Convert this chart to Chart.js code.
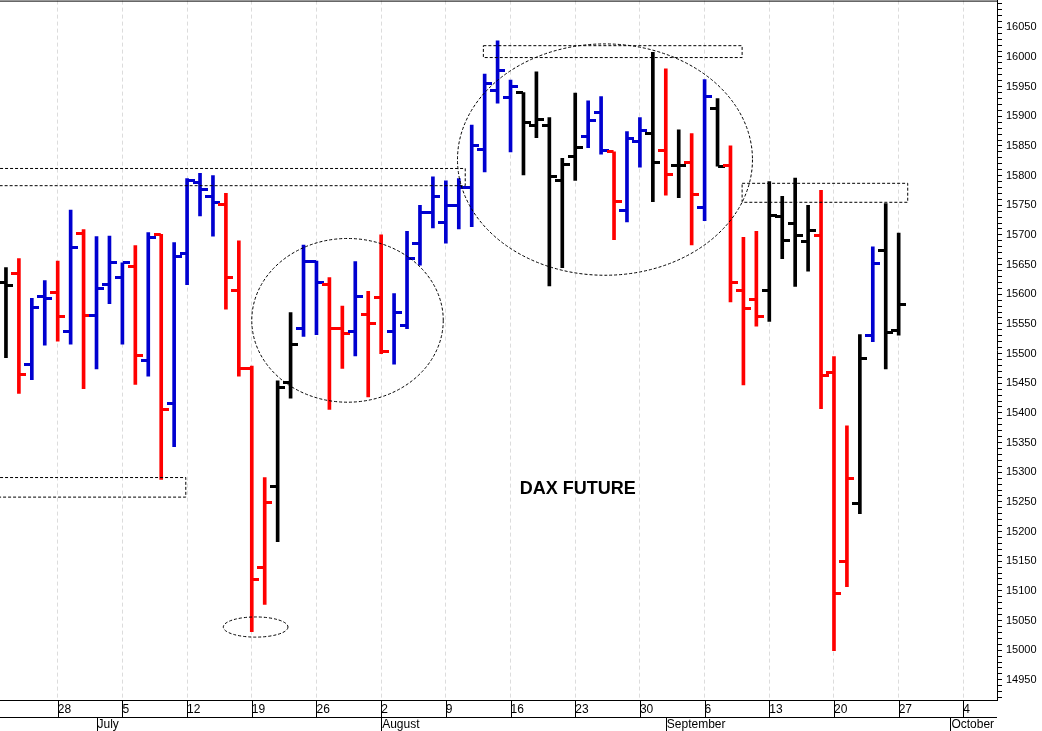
<!DOCTYPE html>
<html lang="en">
<head>
  <meta charset="UTF-8">
  <title>DAX Future</title>
  <script src="https://cdn.jsdelivr.net/npm/chart.js"></script>
  <style>
    body { margin: 0; background: #ffffff; }
    #wrap { width: 1042px; height: 731px; overflow: hidden; position: relative; }
    #inner { position: absolute; left: -5px; top: -10px; width: 1047px; height: 741px; }
  </style>
</head>
<body>
  <div id="wrap"><div id="inner"><canvas id="daxChart"></canvas></div></div>
  <script>
    // trading day index: 0 = Mon 21 June, bars start Tue 22 June
    const firstDay = 1;
    const highs  = [15645,15660,15593,15623,15656,15742,15709,15697,15698,15653,15682,15704,15701,15687,15795,15804,15800,15770,15690,15479,15291,15454,15569,15683,15656,15628,15580,15655,15605,15700,15601,15706,15750,15798,15791,15795,15885,15971,16027,15961,15940,15975,15898,15829,15939,15926,15933,15840,15874,15898,16008,15980,15877,15871,15962,15930,15850,15696,15706,15790,15765,15796,15750,15775,15495,15378,15532,15680,15753,15703];
    const lows   = [15493,15433,15456,15514,15521,15516,15441,15474,15584,15516,15448,15462,15288,15343,15616,15732,15698,15575,15462,15031,15077,15183,15425,15529,15532,15406,15475,15496,15427,15500,15482,15542,15649,15712,15686,15710,15714,15806,15922,15840,15801,15864,15614,15645,15792,15847,15836,15692,15722,15814,15756,15767,15763,15683,15724,15816,15587,15447,15546,15554,15660,15613,15639,15407,14999,15107,15230,15520,15474,15531];
    const opens  = [15620,15635,15482,15596,15603,15538,15703,15564,15616,15628,15646,15488,15700,15416,15668,15789,15764,15751,15607,15475,15139,15276,15451,15543,15655,15616,15543,15537,15566,15594,15538,15548,15686,15738,15721,15749,15780,15844,15944,15932,15940,15885,15885,15791,15833,15866,15907,15840,15742,15858,15871,15843,15817,15822,15746,15913,15817,15607,15591,15607,15731,15719,15689,15699,15468,15150,15247,15530,15673,15539];
    const closes = [15614,15465,15577,15593,15562,15678,15565,15610,15653,15653,15497,15696,15405,15663,15791,15776,15755,15628,15474,15119,15249,15443,15516,15655,15620,15542,15533,15597,15551,15504,15570,15660,15738,15765,15749,15780,15851,15956,15978,15950,15890,15894,15798,15819,15848,15893,15842,15756,15862,15876,15822,15802,15817,15768,15934,15816,15620,15576,15563,15733,15690,15699,15707,15463,15095,15290,15492,15651,15536,15583];
    const colourCodes = 'krbbrbrbbbrbrbbbbrrrrkkbbrrbrrbbbbbbbbbbkkkkkbbrbbkrkrbkrrrkkkkrrrkbkk';

    const mondayLabels = ['21','28','5','12','19','26','2','9','16','23','30','6','13','20','27','4'];
    const monthLabels = ['July','August','September','October'];
    const monthStarts = [8, 30, 52, 74];

    // dashed boxes and circles, in (day index, price)
    const boxes = [
      [-1, 36.5, 15783, 15812],
      [-1, 14.9, 15258, 15291],
      [37.9, 57.9, 15999, 16019],
      [57.9, 70.7, 15755, 15787]
    ];
    const ellipses = [
      [20.3, 15039, 2.5, 17],
      [27.4, 15556, 7.4, 138],
      [47.3, 15827, 11.4, 195]
    ];

    const palette = { k: '#000000', r: '#ff0000', b: '#0000d0' };

    function tickImage(colour, side) {
      const c = document.createElement('canvas');
      c.width = 15; c.height = 3;
      const g = c.getContext('2d');
      g.fillStyle = colour;
      if (side === 'left') g.fillRect(0, 0, 7, 3);
      else g.fillRect(8, 0, 7, 3);
      return c;
    }
    const leftTicks = {}, rightTicks = {};
    for (const k in palette) {
      leftTicks[k] = tickImage(palette[k], 'left');
      rightTicks[k] = tickImage(palette[k], 'right');
    }

    const codes = colourCodes.split('');
    const rangeData = highs.map((h, i) => ({ x: firstDay + i, y: [lows[i], h] }));
    const openData = opens.map((v, i) => ({ x: firstDay + i, y: v }));
    const closeData = closes.map((v, i) => ({ x: firstDay + i, y: v }));

    const overlay = {
      id: 'overlay',
      afterDraw(chart) {
        const ctx = chart.ctx;
        const xs = chart.scales.x, ys = chart.scales.y;
        const area = chart.chartArea;
        ctx.save();
        ctx.strokeStyle = '#000';
        ctx.lineWidth = 1;
        ctx.setLineDash([3, 2]);
        ctx.beginPath();
        ctx.rect(area.left, area.top, area.right - area.left, area.bottom - area.top);
        ctx.clip();
        boxes.forEach(b => {
          const x1 = xs.getPixelForValue(b[0]), x2 = xs.getPixelForValue(b[1]);
          const y1 = ys.getPixelForValue(b[3]), y2 = ys.getPixelForValue(b[2]);
          ctx.strokeRect(x1, y1, x2 - x1, y2 - y1);
        });
        ellipses.forEach(e => {
          const cx = xs.getPixelForValue(e[0]), cy = ys.getPixelForValue(e[1]);
          const rx = xs.getPixelForValue(e[0] + e[2]) - cx;
          const ry = cy - ys.getPixelForValue(e[1] + e[3]);
          ctx.beginPath();
          ctx.ellipse(cx, cy, rx, ry, 0, 0, Math.PI * 2);
          ctx.stroke();
        });
        ctx.restore();

        ctx.save();
        ctx.fillStyle = '#000';
        ctx.font = 'bold 18px "Liberation Sans", Arial, sans-serif';
        ctx.textAlign = 'center';
        ctx.textBaseline = 'middle';
        ctx.fillText('DAX FUTURE', xs.getPixelForValue(45.2), ys.getPixelForValue(15272));

        ctx.strokeStyle = '#000';
        ctx.lineWidth = 1;
        ctx.beginPath();
        ctx.moveTo(0, area.top + 0.5);
        ctx.lineTo(area.right, area.top + 0.5);
        ctx.stroke();

        // date row and month row
        const rowTop = area.bottom, rowMid = area.bottom + 17, rowEnd = chart.height;
        ctx.beginPath();
        ctx.moveTo(0, rowTop + 0.5); ctx.lineTo(area.right, rowTop + 0.5);
        ctx.moveTo(0, rowMid + 0.5); ctx.lineTo(area.right, rowMid + 0.5);
        mondayLabels.forEach((l, i) => {
          const px = Math.round(xs.getPixelForValue(i * 5)) + 0.5;
          if (px > area.right) return;
          ctx.moveTo(px, rowTop); ctx.lineTo(px, rowMid);
        });
        monthStarts.forEach(m => {
          const px = Math.round(xs.getPixelForValue(m)) + 0.5;
          ctx.moveTo(px, rowMid); ctx.lineTo(px, rowEnd);
        });
        ctx.stroke();
        ctx.font = '12px "Liberation Sans", Arial, sans-serif';
        ctx.textAlign = 'left';
        ctx.textBaseline = 'middle';
        monthLabels.forEach((l, i) => {
          ctx.fillText(l, xs.getPixelForValue(monthStarts[i]) + 1, rowMid + 8);
        });
        ctx.restore();
      }
    };

    new Chart(document.getElementById('daxChart'), {
      data: {
        datasets: [
          {
            type: 'bar',
            data: rangeData,
            backgroundColor: codes.map(c => palette[c]),
            barThickness: 3,
            grouped: false,
            order: 2
          },
          {
            type: 'scatter',
            data: openData,
            pointStyle: codes.map(c => leftTicks[c]),
            order: 1
          },
          {
            type: 'scatter',
            data: closeData,
            pointStyle: codes.map(c => rightTicks[c]),
            order: 1
          }
        ]
      },
      options: {
        responsive: true,
        maintainAspectRatio: false,
        animation: false,
        layout: { padding: { bottom: 14, top: 0, left: 0, right: 0 } },
        plugins: { legend: { display: false }, tooltip: { enabled: false } },
        scales: {
          x: {
            type: 'linear',
            offset: false,
            min: 0.54,
            max: 77.6,
            afterBuildTicks(scale) {
              scale.ticks = mondayLabels.map((l, i) => ({ value: i * 5 }))
                .filter(t => t.value >= scale.min && t.value <= scale.max);
            },
            afterFit(scale) { scale.height = 17; },
            ticks: {
              align: 'start',
              padding: 2,
              autoSkip: false,
              maxRotation: 0,
              color: '#000',
              font: { family: '"Liberation Sans", Arial, sans-serif', size: 12 },
              callback: (v) => mondayLabels[Math.round(v / 5)]
            },
            grid: {
              offset: false,
              color: '#dcdcdc',
              drawTicks: false
            },
            border: { display: false, dash: [4, 3] }
          },
          y: {
            position: 'right',
            min: 14916,
            max: 16095,
            afterBuildTicks(scale) {
              const t = [];
              for (let v = 14920; v <= 16090; v += 10) t.push({ value: v });
              scale.ticks = t;
            },
            afterFit(scale) { scale.width = 45; },
            ticks: {
              autoSkip: false,
              padding: 4,
              color: '#000',
              font: { family: '"Liberation Sans", Arial, sans-serif', size: 11 },
              callback: (v) => (v % 50 === 0 ? String(v) : '')
            },
            grid: {
              drawOnChartArea: false,
              tickLength: 5,
              color: '#000'
            },
            border: { display: true, color: '#000' }
          }
        }
      },
      plugins: [overlay]
    });
  </script>
</body>
</html>
